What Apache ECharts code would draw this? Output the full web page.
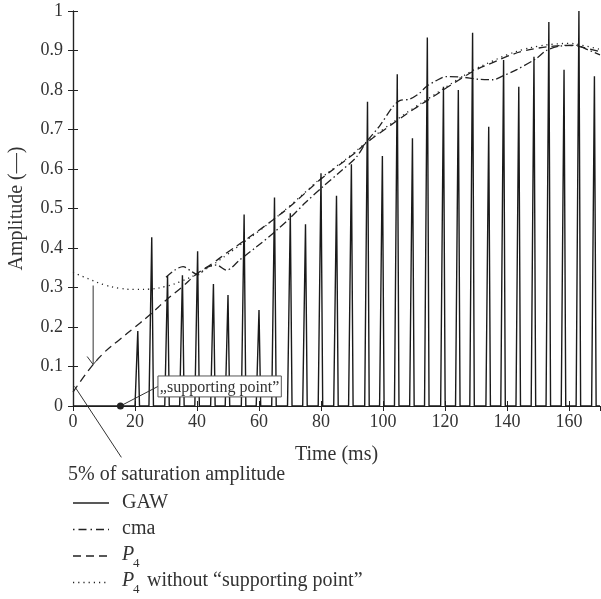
<!DOCTYPE html>
<html><head><meta charset="utf-8">
<script src="https://cdn.jsdelivr.net/npm/echarts@6/dist/echarts.min.js"></script>
<style>html,body{margin:0;padding:0;background:#fff}#c{width:601px;height:599px}</style>
</head><body><div id="c"></div>
<script>
// ---- data ----
const xTickValues = [0, 20, 40, 60, 80, 100, 120, 140, 160];
const yTickValues = [0, 0.1, 0.2, 0.3, 0.4, 0.5, 0.6, 0.7, 0.8, 0.9, 1];

// GAW pulses: peak time (ms) and peak amplitude
const peakTimes = [20.9, 25.4, 30.5, 35.3, 40.2, 45.3, 50.0, 55.2, 60.0, 65.0,
  70.1, 75.0, 80.0, 85.0, 89.8, 95.0, 99.8, 104.6, 109.5, 114.3,
  119.5, 124.3, 128.9, 134.1, 138.9, 143.8, 148.7, 153.5, 158.4, 163.2, 168.2];
const peakHeights = [0.19, 0.427, 0.329, 0.331, 0.392, 0.309, 0.281, 0.485, 0.243, 0.528,
  0.488, 0.46, 0.589, 0.532, 0.612, 0.770, 0.633, 0.840, 0.678, 0.933,
  0.808, 0.800, 0.945, 0.707, 0.876, 0.808, 0.884, 0.972, 0.851, 1.0, 0.835];

// cma (central moving average)
const cmaT = [30, 33, 35.5, 38, 40.3, 43, 46.3, 49.5, 53.8, 59.2, 64.5, 69.9, 75, 80.6, 86, 91.4, 94.6, 99,
  103.2, 105.4, 108.6, 111.8, 114, 117, 120.4, 125, 131, 135.5, 138.5, 143, 149.5, 152.7, 157, 162.4, 166, 170];
const cmaA = [0.326, 0.345, 0.353, 0.342, 0.332, 0.350, 0.357, 0.344, 0.370, 0.403, 0.437, 0.475, 0.515, 0.555, 0.592, 0.630, 0.668, 0.710,
  0.758, 0.773, 0.777, 0.792, 0.809, 0.823, 0.834, 0.833, 0.827, 0.826, 0.835, 0.851, 0.880, 0.900, 0.911, 0.913, 0.902, 0.889];

// P4 (4th order polynomial with supporting point)
const p4T = [0, 5, 10, 15, 20, 25, 30, 35, 40, 45, 50, 55, 60, 65, 70, 75, 80, 85, 90, 95, 100,
  105, 110, 115, 120, 125, 130, 135, 140, 145, 150, 155, 160, 165, 170];
const p4A = [0.035, 0.090, 0.135, 0.168, 0.200, 0.232, 0.268, 0.300, 0.335, 0.361, 0.390, 0.417, 0.445, 0.474, 0.505, 0.540, 0.575, 0.605, 0.635, 0.668, 0.697,
  0.725, 0.752, 0.777, 0.803, 0.828, 0.851, 0.868, 0.885, 0.898, 0.906, 0.911, 0.913, 0.907, 0.897];

// P4 without "supporting point"
const p4wT = [0, 5, 10, 15, 20, 25, 30, 35, 40, 45, 50, 55, 60, 65, 70, 75, 80, 85, 90, 95, 100,
  105, 110, 115, 120, 125, 130, 135, 140, 145, 150, 155, 160, 165, 170];
const p4wA = [0.338, 0.322, 0.307, 0.298, 0.295, 0.296, 0.303, 0.316, 0.334, 0.357, 0.385, 0.414, 0.443, 0.474, 0.507, 0.542, 0.577, 0.607, 0.637, 0.670, 0.700,
  0.728, 0.755, 0.780, 0.806, 0.831, 0.854, 0.872, 0.889, 0.902, 0.911, 0.916, 0.918, 0.912, 0.903];

// annotation anchors (data space)
const arrowFrom = [6.5, 0.305];
const arrowTo = [6.5, 0.105];
const satPoint = [0.5, 0.05];
const satLabelEnd = [15.6, -0.13];
const supportPoint = [15.3, 0];
const supportBox = [27.4, 67.2, 0.076, 0.023]; // left, right, top, bottom

// ---- build ----
const RISE = 0.9, FALL = 0.55;
const gaw = [[0, 0]];
peakTimes.forEach((t, i) => { gaw.push([t - RISE, 0], [t, peakHeights[i]], [t + FALL, 0]); });
gaw.push([170, 0]);
const zip = (a, b) => a.map((v, i) => [v, b[i]]);

const SERIF = '"Liberation Serif", "DejaVu Serif", serif';
const INK = '#222';
const TXT = '#333';

const chart = echarts.init(document.getElementById('c'), null, {renderer: 'canvas'});
const axisCommon = {
  type: 'value',
  axisLine: {show: true, lineStyle: {color: INK, width: 1.2}},
  axisTick: {show: true, inside: true, length: 5, lineStyle: {color: INK, width: 1}},
  splitLine: {show: false},
  minorTick: {show: false}
};
const option = {
  animation: false,
  backgroundColor: '#fff',
  grid: {left: 73, right: 1, top: 11, bottom: 193, containLabel: false, outerBoundsMode: 'none'},
  xAxis: [
    Object.assign({}, axisCommon, {
      min: 0, max: 170, interval: 20, position: 'bottom',
      name: 'Time (ms)', nameLocation: 'middle', nameGap: 39,
      nameTextStyle: {fontFamily: SERIF, fontSize: 20, color: TXT},
      axisLabel: {show: true, margin: 7, fontFamily: SERIF, fontSize: 18, color: TXT, showMaxLabel: false,
        formatter: v => xTickValues.indexOf(v) >= 0 ? String(v) : ''}
    }),
    Object.assign({}, axisCommon, {min: 0, max: 170, interval: 20, position: 'top', axisLabel: {show: false}})
  ],
  yAxis: [
    Object.assign({}, axisCommon, {
      min: 0, max: 1, interval: 0.1, position: 'left',
      name: 'Amplitude (\u2014)', nameLocation: 'middle', nameGap: 46, nameRotate: 90,
      nameTextStyle: {fontFamily: SERIF, fontSize: 20, color: TXT},
      axisLabel: {show: true, margin: 10, fontFamily: SERIF, fontSize: 18, color: TXT,
        formatter: v => { const r = Math.round(v * 10) / 10; return yTickValues.indexOf(r) >= 0 ? String(r) : ''; }}
    }),
    Object.assign({}, axisCommon, {min: 0, max: 1, interval: 0.1, position: 'right', axisLabel: {show: false}})
  ],
  series: [
    {name: 'P4 without supporting point', type: 'line', data: zip(p4wT, p4wA), smooth: 0.4, showSymbol: false,
      lineStyle: {color: INK, width: 1.3, type: [1.2, 4]}, z: 2},
    {name: 'P4', type: 'line', data: zip(p4T, p4A), smooth: 0.4, showSymbol: false,
      lineStyle: {color: INK, width: 1.3, type: [8, 5]}, z: 3},
    {name: 'cma', type: 'line', data: zip(cmaT, cmaA), smooth: 0.3, showSymbol: false,
      lineStyle: {color: INK, width: 1.3, type: [8, 3, 1.5, 3]}, z: 3},
    {name: 'GAW', type: 'line', data: gaw, showSymbol: false,
      lineStyle: {color: '#1a1a1a', width: 1.4}, z: 4},
    {type: 'custom', coordinateSystem: 'cartesian2d', clip: false, silent: true, z: 10, data: [0],
      renderItem: function (params, api) {
        const a0 = api.coord(arrowFrom), a1 = api.coord(arrowTo);
        const s0 = api.coord(satPoint), s1 = api.coord(satLabelEnd);
        const d = api.coord(supportPoint);
        const b0 = api.coord([supportBox[0], supportBox[2]]);
        const b1 = api.coord([supportBox[1], supportBox[3]]);
        const bm = (b0[1] + b1[1]) / 2;
        const ls = {stroke: '#333', lineWidth: 1, fill: null};
        return {type: 'group', children: [
          {type: 'line', shape: {x1: a0[0], y1: a0[1], x2: a1[0], y2: a1[1]}, style: ls},
          {type: 'polyline', shape: {points: [[a1[0] - 6, a1[1] - 8], [a1[0], a1[1]], [a1[0] + 6, a1[1] - 7]]}, style: ls},
          {type: 'line', shape: {x1: s0[0], y1: s0[1], x2: s1[0], y2: s1[1]}, style: ls},
          {type: 'line', shape: {x1: d[0], y1: d[1], x2: b0[0], y2: bm}, style: ls},
          {type: 'circle', shape: {cx: d[0], cy: d[1], r: 3.5}, style: {fill: '#222'}},
          {type: 'rect', shape: {x: b0[0], y: b0[1], width: b1[0] - b0[0], height: b1[1] - b0[1]},
            style: {fill: '#fff', stroke: '#555', lineWidth: 1}},
          {type: 'text', style: {text: '\u201Esupporting point\u201D', x: (b0[0] + b1[0]) / 2, y: bm + 1,
            align: 'center', verticalAlign: 'middle', fontFamily: SERIF, fontSize: 16, fill: TXT}}
        ]};
      }}
  ],
  graphic: [
    {type: 'text', left: 68, top: 465, style: {text: '5% of saturation amplitude', fontFamily: SERIF, fontSize: 20, fill: TXT}},
    {type: 'line', shape: {x1: 73, y1: 503, x2: 109, y2: 503}, style: {stroke: INK, lineWidth: 1.3}},
    {type: 'text', left: 122, top: 493, style: {text: 'GAW', fontFamily: SERIF, fontSize: 20, fill: TXT}},
    {type: 'line', shape: {x1: 73, y1: 529.5, x2: 109, y2: 529.5}, style: {stroke: INK, lineWidth: 1.3, lineDash: [1.5, 4, 8, 4]}},
    {type: 'text', left: 122, top: 519, style: {text: 'cma', fontFamily: SERIF, fontSize: 20, fill: TXT}},
    {type: 'line', shape: {x1: 73, y1: 556, x2: 109, y2: 556}, style: {stroke: INK, lineWidth: 1.3, lineDash: [8, 5]}},
    {type: 'text', left: 122, top: 545, style: {text: 'P', fontFamily: SERIF, fontSize: 20, fontStyle: 'italic', fill: TXT}},
    {type: 'text', left: 133, top: 557, style: {text: '4', fontFamily: SERIF, fontSize: 13, fill: TXT}},
    {type: 'line', shape: {x1: 73, y1: 582.5, x2: 109, y2: 582.5}, style: {stroke: INK, lineWidth: 1.3, lineDash: [1.2, 4]}},
    {type: 'text', left: 122, top: 571, style: {text: 'P', fontFamily: SERIF, fontSize: 20, fontStyle: 'italic', fill: TXT}},
    {type: 'text', left: 133, top: 583, style: {text: '4', fontFamily: SERIF, fontSize: 13, fill: TXT}},
    {type: 'text', left: 147, top: 571, style: {text: 'without \u201Csupporting point\u201D', fontFamily: SERIF, fontSize: 20, fill: TXT}}
  ]
};
chart.setOption(option);
</script>
</body></html>
